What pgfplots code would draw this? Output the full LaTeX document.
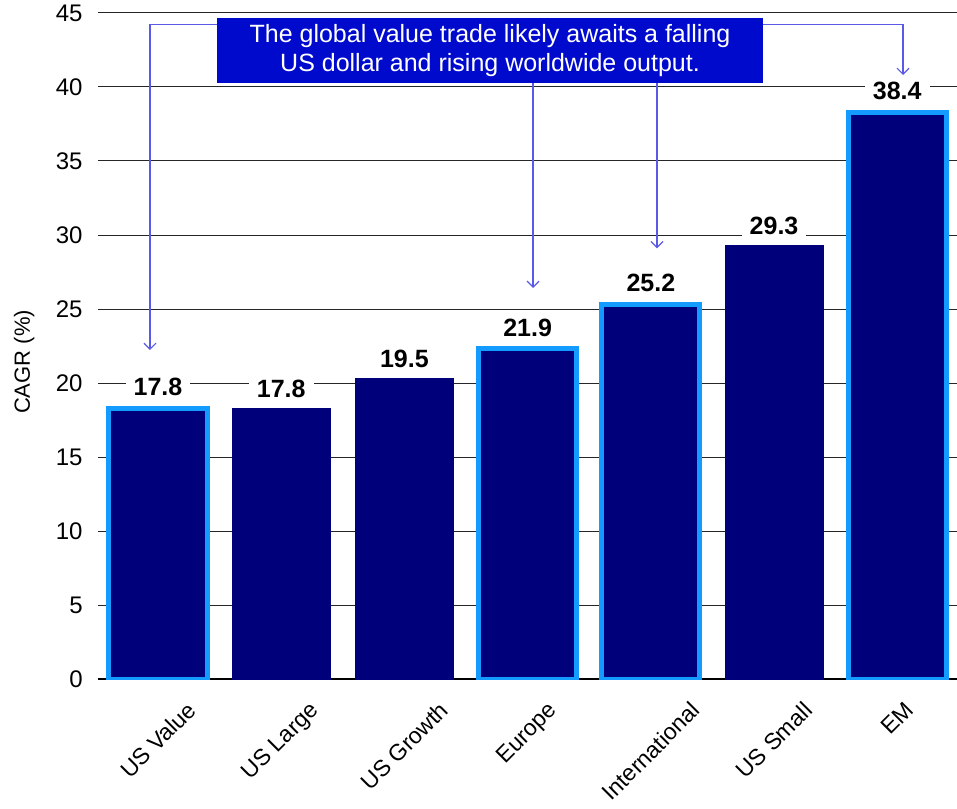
\documentclass[border=0pt]{standalone}
\usepackage{fontspec}
\setmainfont{Liberation Sans}
\usepackage{graphicx}
\usepackage{pgfplots}
\pgfplotsset{compat=1.18}
\usetikzlibrary{arrows.meta}

\definecolor{navy}{RGB}{0,0,122}
\definecolor{edgeblue}{RGB}{20,155,255}
\definecolor{boxblue}{RGB}{0,10,205}
\definecolor{arrowblue}{RGB}{90,90,230}

\begin{document}
\begin{tikzpicture}
\useasboundingbox (-49pt,-64.5pt) rectangle (429.5pt,339.5pt);
\begin{axis}[
  at={(0,0)}, anchor=south west,
  scale only axis, width=429.5pt, height=333pt,
  xmin=-0.487, xmax=6.485, ymin=0, ymax=45,
  ytick={0,5,...,45},
  xtick={0,...,6},
  xticklabels={\rotatebox{45}{US Value},\rotatebox{45}{US Large},\rotatebox{45}{US Growth},\rotatebox{45}{Europe},\rotatebox{45}{International},\rotatebox{45}{US Small},\rotatebox{45}{EM}},
  xticklabel style={anchor=north, inner sep=0pt, yshift=-10.5pt, font=\fontsize{11.5}{13}\selectfont},
  yticklabel style={anchor=east, inner sep=0pt, xshift=-7.5pt, font=\fontsize{12}{14}\selectfont},
  /pgf/number format/assume math mode=true,
  major tick length=0pt,
  axis x line*=bottom, axis y line*=left,
  y axis line style={draw=none},
  x axis line style={black, line width=1pt},
  ymajorgrids, grid style={black!85, line width=0.5pt},
  ylabel={CAGR (\%)},
  ylabel style={at={(axis description cs:-0.086,0.476)}, anchor=center, font=\fontsize{11}{13}\selectfont},
  every node near coord/.append style={text=black, fill=white, draw=none, anchor=south,
    inner xsep=4pt, inner ysep=2pt, yshift=3pt, font=\fontsize{12.5}{14}\selectfont\bfseries},
]
% highlighted bars
\addplot[ybar, bar width=49pt, bar shift=0pt, fill=navy, draw=edgeblue, line width=2.5pt,
  nodes near coords, point meta=explicit symbolic]
  coordinates {(0,18.3)[17.8] (3,22.3)[21.9] (4,25.3)[25.2] (6,38.3)[38.4]};
% plain bars
\addplot[ybar, bar width=49pt, bar shift=0pt, fill=navy, draw=navy, line width=0.5pt,
  nodes near coords, point meta=explicit symbolic]
  coordinates {(1,18.3)[17.8] (2,20.3)[19.5] (5,29.3)[29.3]};

% callout arrows
\draw[arrowblue, line width=0.6pt, -{Straight Barb[length=3pt,width=6pt]}]
  (axis cs:0.6,44.21) -| (axis cs:-0.065,22.23);
\draw[arrowblue, line width=0.6pt, -{Straight Barb[length=3pt,width=6pt]}]
  (axis cs:3.044,41) -- (axis cs:3.044,26.42);
\draw[arrowblue, line width=0.6pt, -{Straight Barb[length=3pt,width=6pt]}]
  (axis cs:4.05,41) -- (axis cs:4.05,29.1);
\draw[arrowblue, line width=0.6pt, -{Straight Barb[length=3pt,width=6pt]}]
  (axis cs:4.8,44.21) -| (axis cs:6.047,40.81);
\node[fill=boxblue, text=white, align=center, minimum width=273pt, minimum height=32.5pt,
  inner sep=0pt, font=\fontsize{12.5}{14.8}\selectfont]
  at (axis cs:2.695,42.47) {The global value trade likely awaits a falling\\US dollar and rising worldwide output.};
\end{axis}
\end{tikzpicture}
\end{document}
